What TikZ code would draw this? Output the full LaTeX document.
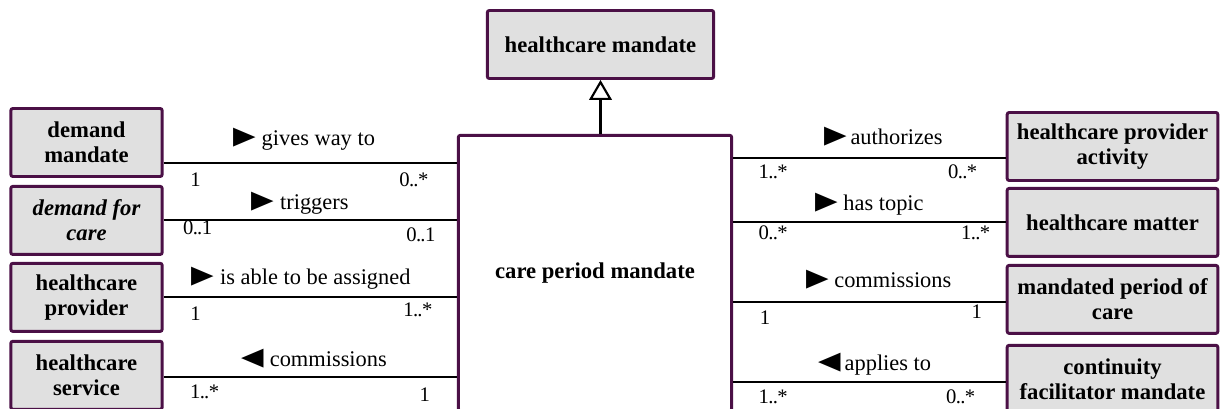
\documentclass[tikz,border=0pt]{standalone}
\usepackage{graphicx}
\usepackage{fontspec}
\setmainfont{Liberation Serif}
\newfontfamily\glyphfont{DejaVu Sans}
\usetikzlibrary{arrows.meta, positioning}

\definecolor{umlpurple}{RGB}{75,16,70}
\definecolor{umlgray}{RGB}{224,224,224}

% reading direction of an association
\newcommand{\dirright}{\raisebox{-1.5pt}{\scalebox{1}[1.3]{\glyphfont\fontsize{22}{22}\selectfont\char"25BA}}}
\newcommand{\dirleft}{\raisebox{-1.5pt}{\scalebox{1}[1.3]{\glyphfont\fontsize{22}{22}\selectfont\char"25C4}}}
% multiplicity range, tight dots
\newcommand{\range}[2]{#1\kern-0.4pt.\kern-0.6pt.\kern-0.4pt#2}

\begin{document}
\begin{tikzpicture}[
    x = 0.75pt, y = -0.75pt,
    cls/.style = {
        rectangle, draw=umlpurple, fill=umlgray,
        line width = 2.2pt, rounded corners = 1.5pt,
        align = center, inner sep = 2pt,
        font = \fontsize{17}{18.8}\selectfont\bfseries
    },
    leftcls/.style  = { cls, minimum width = 113.5pt, minimum height = 51pt },
    rightcls/.style = { cls, minimum width = 158pt, minimum height = 51pt },
    assoc/.style = { line width = 2pt },
    role/.style  = { anchor = base, inner sep = 0pt, font = \fontsize{16.8}{18}\selectfont },
    mult/.style  = { anchor = base, inner sep = 0pt, font = \fontsize{15.5}{18}\selectfont },
    gen/.style   = { -{Triangle[open, length=15pt, width=17pt, line width=1.6pt]}, line width = 2pt },
]
\useasboundingbox (0,0) rectangle (1224,409);
\clip (0,0) rectangle (1224,409);

%% ── Classes ──────────────────────────────────────────────────────────────
\node[cls, minimum width=169.75pt, minimum height=51pt] (hm) at (600.5,44.5) {healthcare mandate};
\node[cls, fill=white, minimum width=205pt, minimum height=206.5pt] (cpm) at (595,273) {care period mandate};

\node[leftcls] (dm) at (86.5,142.5) {demand\\mandate};
\node[leftcls, below=5.25pt of dm] (dfc) {\itshape demand for\\\itshape care};
\node[leftcls, below=4.5pt of dfc] (hp) {healthcare\\provider};
\node[leftcls, below=5.25pt of hp] (hs) {healthcare\\service};

\node[rightcls] (hpa) at (1112.5,146.5) {healthcare provider\\activity};
\node[rightcls, below=3.75pt of hpa] (hmat) {healthcare matter};
\node[rightcls, below=4.5pt of hmat] (mpc) {mandated period of\\care};
\node[rightcls, below=6.75pt of mpc] (cfm) {continuity\\facilitator mandate};

%% ── Generalization ───────────────────────────────────────────────────────
\draw[gen] (hm.south |- cpm.north) -- (hm.south);

%% ── Association levels ───────────────────────────────────────────────────
\coordinate (lgw) at (0,163);
\coordinate (ltr) at (0,220);
\coordinate (lab) at (0,297);
\coordinate (lco) at (0,377);
\coordinate (rau) at (0,158);
\coordinate (rht) at (0,222);
\coordinate (rco) at (0,302);
\coordinate (rap) at (0,382);

%% ── Associations, left side ──────────────────────────────────────────────
\draw[assoc] (dm.east |- lgw) -- (cpm.west |- lgw)
    node[role, midway, xshift=-4.5pt, yshift=12.75pt] {\dirright\ gives way to}
    node[mult, at start, xshift=24pt, yshift=-18pt] {1}
    node[mult, at end, xshift=-32.25pt, yshift=-18pt] {\range{0}{*}};

\draw[assoc] (dfc.east |- ltr) -- (cpm.west |- ltr)
    node[role, midway, xshift=-7.5pt, yshift=7.5pt] {\dirright\ triggers}
    node[mult, at start, xshift=25.5pt, yshift=-11.25pt] {\range{0}{1}}
    node[mult, at end, xshift=-27pt, yshift=-16.5pt] {\range{0}{1}};

\draw[assoc] (hp.east |- lab) -- (cpm.west |- lab)
    node[role, midway, xshift=-6.75pt, yshift=9pt] {\dirright\ is able to be assigned}
    node[mult, at start, xshift=24pt, yshift=-18pt] {1}
    node[mult, at end, xshift=-29.25pt, yshift=-15pt] {\range{1}{*}};

\draw[assoc] (hs.east |- lco) -- (cpm.west |- lco)
    node[role, midway, xshift=3pt, yshift=7.5pt] {\dirleft\ commissions}
    node[mult, at start, xshift=30.75pt, yshift=-15.75pt] {\range{1}{*}}
    node[mult, at end, xshift=-24pt, yshift=-18.75pt] {1};

%% ── Associations, right side ─────────────────────────────────────────────
\draw[assoc] (cpm.east |- rau) -- (hpa.west |- rau)
    node[role, midway, xshift=10.5pt, yshift=9.75pt] {\dirright\,authorizes}
    node[mult, at start, xshift=30pt, yshift=-15.75pt] {\range{1}{*}}
    node[mult, at end, xshift=-32.25pt, yshift=-15.75pt] {\range{0}{*}};

\draw[assoc] (cpm.east |- rht) -- (hmat.west |- rht)
    node[role, midway, yshift=8.25pt] {\dirright\ has topic}
    node[mult, at start, xshift=30pt, yshift=-13.5pt] {\range{0}{*}}
    node[mult, at end, xshift=-22.5pt, yshift=-13.5pt] {\range{1}{*}};

\draw[assoc] (cpm.east |- rco) -- (mpc.west |- rco)
    node[role, midway, xshift=7pt, yshift=10.5pt] {\dirright\ commissions}
    node[mult, at start, xshift=24pt, yshift=-17.25pt] {1}
    node[mult, at end, xshift=-21.75pt, yshift=-12.75pt] {1};

\draw[assoc] (cpm.east |- rap) -- (cfm.west |- rap)
    node[role, midway, xshift=4pt, yshift=8.25pt] {\dirleft\,applies to}
    node[mult, at start, xshift=30pt, yshift=-15.75pt] {\range{1}{*}}
    node[mult, at end, xshift=-33.75pt, yshift=-15.75pt] {\range{0}{*}};

\end{tikzpicture}
\end{document}
